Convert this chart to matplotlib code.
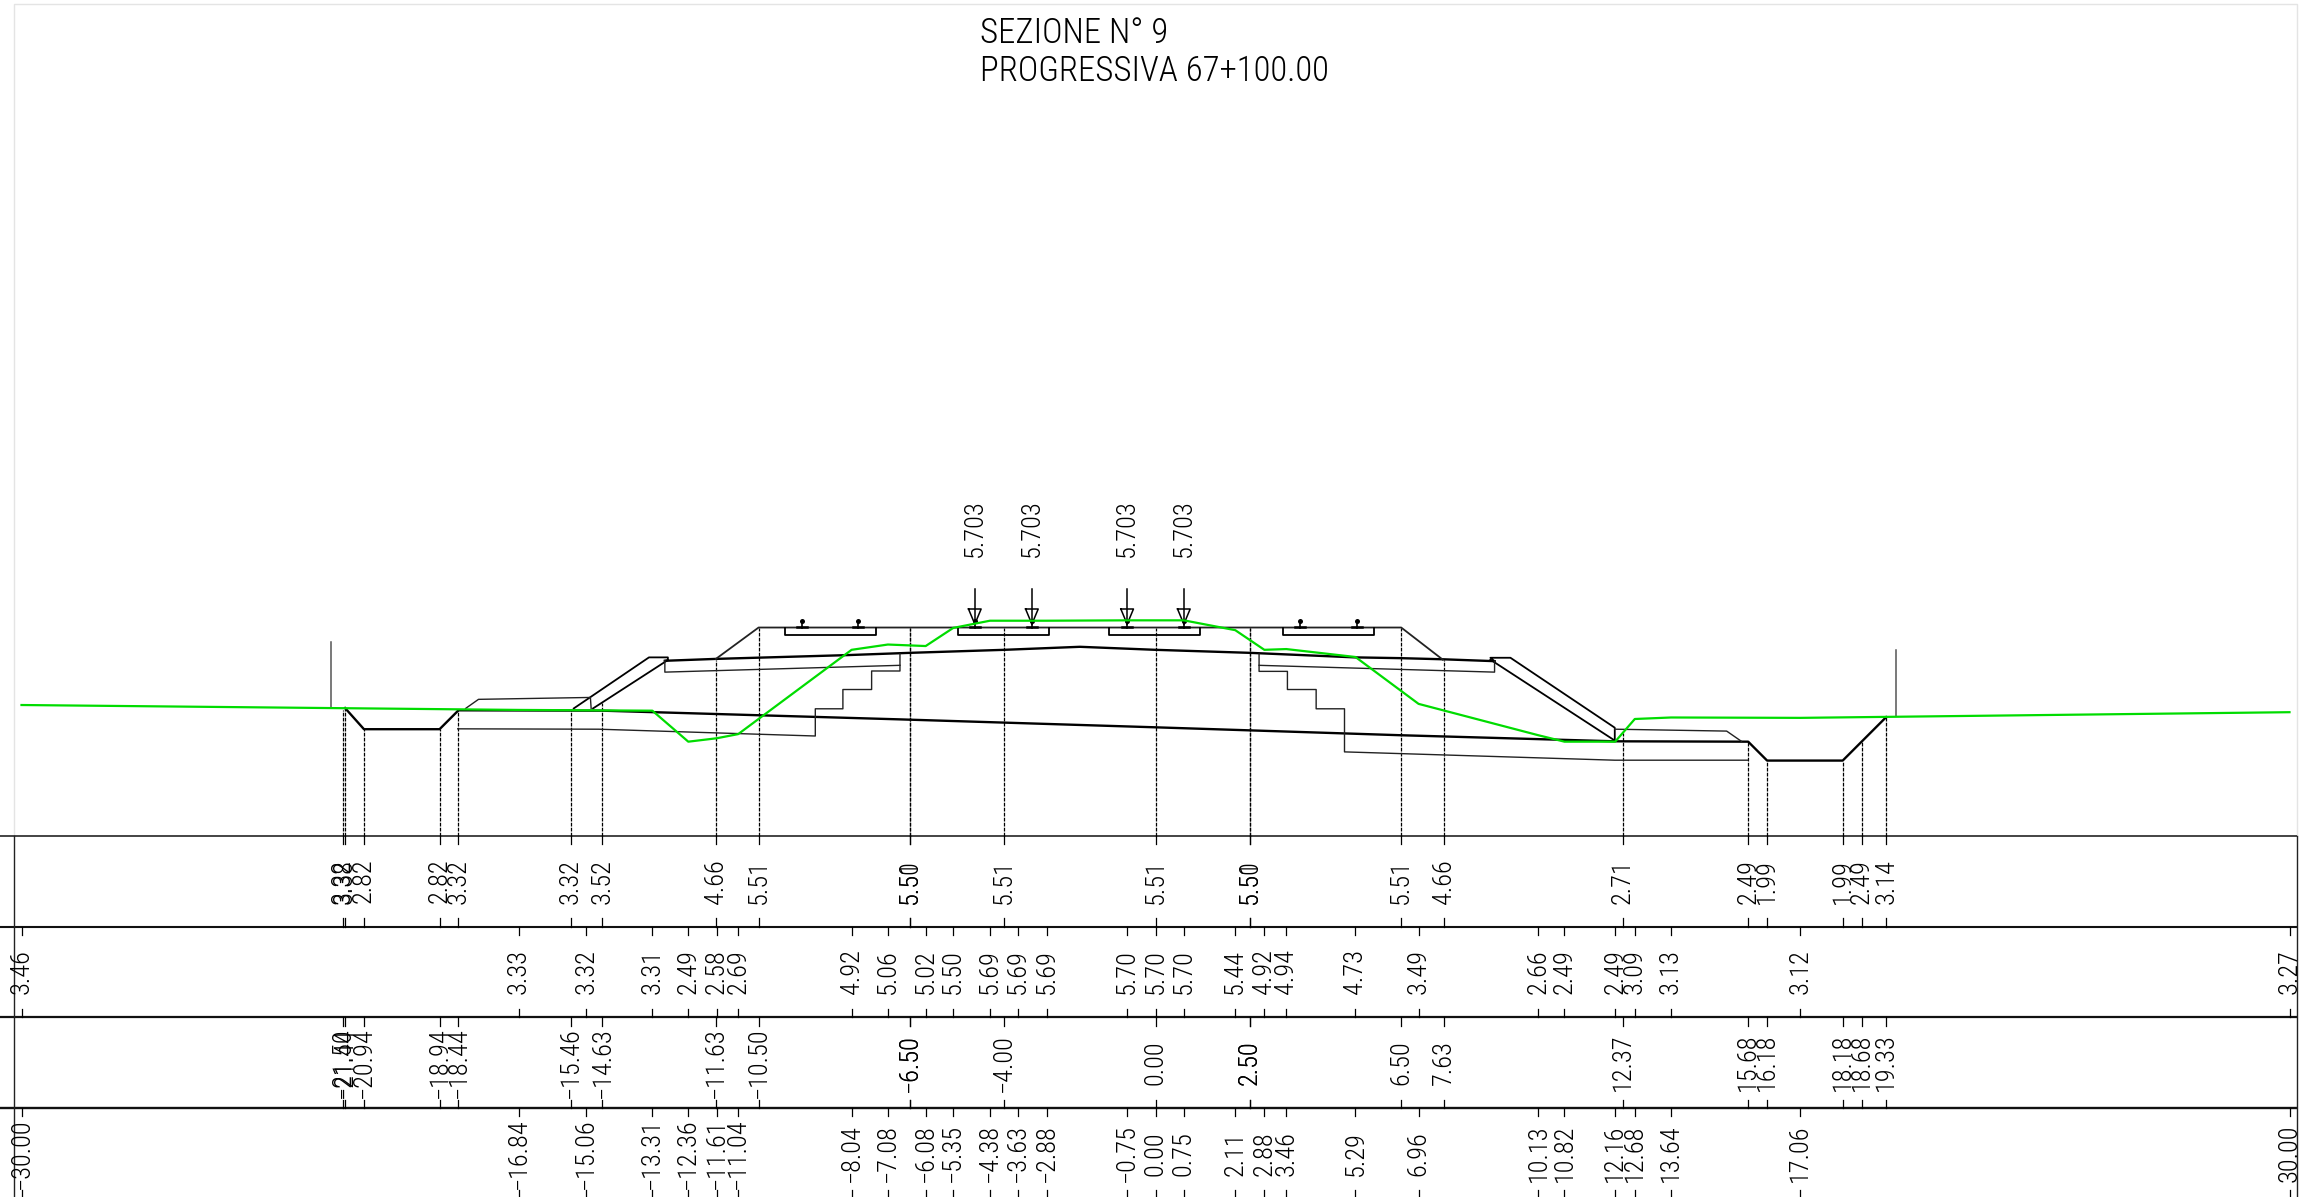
import matplotlib
matplotlib.use("Agg")
import matplotlib.pyplot as plt

# ---- table data (metres) ----
# project points: distance from axis / elevation
dist_project = [-21.50, -21.44, -20.94, -18.94, -18.44, -15.46, -14.63, -11.63, -10.50, -6.50, -6.50,
                -4.00, 0.00, 2.50, 2.50, 6.50, 7.63, 12.37, 15.68, 16.18, 18.18, 18.68, 19.33]
elev_project = [3.32, 3.38, 2.82, 2.82, 3.32, 3.32, 3.52, 4.66, 5.51, 5.50, 5.51,
                5.51, 5.51, 5.50, 5.51, 5.51, 4.66, 2.71, 2.49, 1.99, 1.99, 2.49, 3.14]

# ground points
dist_ground = [-30.00, -16.84, -15.06, -13.31, -12.36, -11.61, -11.04, -8.04, -7.08, -6.08, -5.35,
               -4.38, -3.63, -2.88, -0.75, 0.00, 0.75, 2.11, 2.88, 3.46, 5.29, 6.96, 10.13, 10.82,
               12.16, 12.68, 13.64, 17.06, 30.00]
elev_ground = [3.46, 3.33, 3.32, 3.31, 2.49, 2.58, 2.69, 4.92, 5.06, 5.02, 5.50,
               5.69, 5.69, 5.69, 5.70, 5.70, 5.70, 5.44, 4.92, 4.94, 4.73, 3.49, 2.66, 2.49,
               2.49, 3.09, 3.13, 3.12, 3.27]

# ---- section outlines (x, z) ----
crown_x = [-12.98, -11.63, -8.16, -6.50, -4.00, -2.00, 0.00, 2.50, 5.28, 6.47, 7.60, 8.97]
crown_z = [4.63, 4.68, 4.78, 4.84, 4.92, 5.00, 4.92, 4.84, 4.72, 4.70, 4.67, 4.62]
base_x = [-21.44, -20.94, -18.94, -18.44, -14.63, -6.76, 0.00, 6.50, 12.15, 15.68, 16.18, 18.18, 18.68, 19.33]
base_z = [3.38, 2.82, 2.82, 3.32, 3.31, 3.08, 2.87, 2.66, 2.50, 2.49, 1.99, 1.99, 2.49, 3.14]
platform_x = [-11.63, -10.50, 6.50, 7.60]
platform_z = [4.68, 5.51, 5.51, 4.66]

left_berm_x = [-18.25, -17.91, -14.95, -14.93]
left_berm_z = [3.37, 3.61, 3.66, 3.37]
left_slope1_x = [-15.39, -13.40, -12.90, -12.90, -12.98]
left_slope1_z = [3.37, 4.72, 4.72, 4.65, 4.63]
left_slope2_x = [-14.88, -12.90]
left_slope2_z = [3.37, 4.65]
right_slope1_x = [8.97, 8.86, 9.39, 12.15, 12.15]
right_slope1_z = [4.62, 4.71, 4.71, 2.86, 2.52]
right_slope2_x = [8.86, 12.15]
right_slope2_z = [4.66, 2.52]
right_berm_x = [12.15, 15.11, 15.50]
right_berm_z = [2.82, 2.77, 2.50]

left_lower_x = [-18.46, -14.73, -9.00, -9.00, -8.27, -8.27, -7.51, -7.51, -6.76, -6.76]
left_lower_z = [2.83, 2.82, 2.64, 3.36, 3.36, 3.87, 3.87, 4.36, 4.36, 4.81]
left_sub_x = [-12.98, -12.98, -6.76]
left_sub_z = [4.63, 4.33, 4.51]
right_lower_x = [2.74, 2.74, 3.49, 3.49, 4.25, 4.25, 5.00, 5.00, 12.15, 15.66]
right_lower_z = [4.81, 4.35, 4.35, 3.87, 3.87, 3.36, 3.36, 2.22, 2.00, 2.00]
right_sub_x = [2.74, 8.97, 8.97]
right_sub_z = [4.51, 4.33, 4.62]

sleeper_left = [-9.80, -5.22, -1.22, 3.38]
sleeper_right = [-7.40, -2.82, 1.18, 5.78]
rails_free = [-9.35, -7.87, 3.82, 5.33]
rails_loaded = [-4.78, -3.27, -0.75, 0.75]
rail_label = "5.703"
post_x = [-21.80, 19.60]
post_bottom = [3.40, 3.17]
post_top = [5.13, 4.91]

title_lines = ["SEZIONE N° 9", "PROGRESSIVA 67+100.00"]

# 37.8 px per metre on both axes, z=0 is the top of the table
PX = 37.8
X0 = 1155.5
Z0 = 835.8
W, H = 2311, 1197
GREEN = "#00dc00"

plt.rcParams["font.family"] = ["Roboto Condensed", "Liberation Sans", "DejaVu Sans"]
plt.rcParams["font.weight"] = 300

fig = plt.figure(figsize=(W / 100, H / 100), dpi=100)
ax = fig.add_axes([0, 0, 1, 1])
ax.set_xlim(-X0 / PX, (W - X0) / PX)
ax.set_ylim((Z0 - H) / PX, Z0 / PX)
ax.axis("off")

# page frame
ax.plot([-30.2, -30.2, 30.2, 30.2], [0, 22.0, 22.0, 0], color="#e4e4e4", lw=1.0)

# table
row_h = 2.4
row_tops = [0, -row_h, -2 * row_h, -3 * row_h]
table_lw = [1.1, 1.5, 1.6, 1.7]
for top, lw in zip(row_tops, table_lw):
    ax.plot([-X0 / PX, 30.2], [top, top], color="#111111", lw=lw, solid_capstyle="butt")
bottom = (Z0 - H) / PX
ax.plot([-30.2, -30.2], [0, bottom], color="#222222", lw=1.0)
ax.plot([30.2, 30.2], [0, bottom], color="#222222", lw=1.0)

tick = 0.22


def table_row(top, dists, labels):
    for d, lab in zip(dists, labels):
        ax.plot([d, d], [top, top - tick], color="black", lw=0.9)
        ax.plot([d, d], [top - row_h, top - row_h + tick], color="black", lw=0.9)
        ax.text(d, top - row_h / 2, lab, rotation=90, ha="center", va="center",
                fontsize=19, color="black", rotation_mode="anchor")


def dist_labels(values):
    return [f"{v:.2f}".replace("-", "\u2212") for v in values]


table_row(row_tops[0], dist_project, [f"{v:.2f}" for v in elev_project])
table_row(row_tops[1], dist_ground, [f"{v:.2f}" for v in elev_ground])
table_row(row_tops[2], dist_project, dist_labels(dist_project))
table_row(row_tops[3], dist_ground, dist_labels(dist_ground))

# dashed verticals from section to table
for d, z in zip(dist_project, elev_project):
    ax.plot([d, d], [0, z], color="black", lw=0.9, ls=(0, (3, 1)))

# section
thick = 1.7
mid = 1.3
thin = 1.0
ax.plot(crown_x, crown_z, color="black", lw=thick)
ax.plot(base_x, base_z, color="black", lw=thick)
ax.plot(platform_x, platform_z, color="#222222", lw=mid)
for xs, zs in [(left_slope1_x, left_slope1_z), (left_slope2_x, left_slope2_z),
               (right_slope1_x, right_slope1_z), (right_slope2_x, right_slope2_z)]:
    ax.plot(xs, zs, color="black", lw=mid)
for xs, zs in [(left_berm_x, left_berm_z), (right_berm_x, right_berm_z),
               (left_lower_x, left_lower_z), (left_sub_x, left_sub_z),
               (right_lower_x, right_lower_z), (right_sub_x, right_sub_z)]:
    ax.plot(xs, zs, color="#222222", lw=thin)

# sleepers and rails
for a, b in zip(sleeper_left, sleeper_right):
    ax.plot([a, a, b, b], [5.51, 5.30, 5.30, 5.51], color="black", lw=mid)
for r in rails_free + rails_loaded:
    ax.plot([r, r], [5.51, 5.68], color="black", lw=1.2)
    ax.plot([r - 0.13, r + 0.13], [5.53, 5.53], color="black", lw=1.8)
    ax.plot([r], [5.68], "o", color="black", ms=3.6, mew=0)

# load arrows
for r in rails_loaded:
    ax.plot([r, r], [5.60, 6.53], color="black", lw=1.1)
    ax.plot([r - 0.167, r + 0.167, r, r - 0.167], [6.00, 6.00, 5.60, 6.00], color="black", lw=1.1)
    ax.text(r, 8.13, rail_label, rotation=90, ha="center", va="center", fontsize=19,
            rotation_mode="anchor")

# end posts
for x, a, b in zip(post_x, post_bottom, post_top):
    ax.plot([x, x], [a, b], color="#555555", lw=1.1)

# ground line
ax.plot(dist_ground, elev_ground, color=GREEN, lw=1.6, zorder=5)

# title
ax.text((980 - X0) / PX, (Z0 - 33) / PX, title_lines[0], fontsize=25, ha="left", va="center")
ax.text((980 - X0) / PX, (Z0 - 71) / PX, title_lines[1], fontsize=25, ha="left", va="center")

fig.savefig("out.png", dpi=100, facecolor="white")
